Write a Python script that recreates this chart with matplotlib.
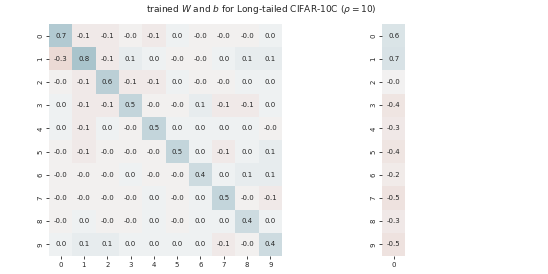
import numpy as np
import matplotlib
matplotlib.use("Agg")
import matplotlib.pyplot as plt
import seaborn as sns

classes = [str(i) for i in range(10)]
W = np.array([
    [0.7, -0.1, -0.1, -0.02, -0.1, 0.02, -0.02, -0.02, -0.02, 0.02],
    [-0.3, 0.8, -0.1, 0.1, 0.02, -0.02, -0.02, 0.02, 0.1, 0.1],
    [-0.02, -0.1, 0.6, -0.1, -0.1, 0.02, -0.02, -0.02, 0.02, 0.02],
    [0.02, -0.1, -0.1, 0.5, -0.02, -0.02, 0.1, -0.1, -0.1, 0.02],
    [0.02, -0.1, 0.02, -0.02, 0.5, 0.02, 0.02, 0.02, 0.02, -0.02],
    [-0.02, -0.1, -0.02, -0.02, -0.02, 0.5, 0.02, -0.1, 0.02, 0.1],
    [-0.02, -0.02, -0.02, 0.02, -0.02, -0.02, 0.4, 0.02, 0.1, 0.1],
    [-0.02, -0.02, -0.02, -0.02, 0.02, -0.02, 0.02, 0.5, -0.02, -0.1],
    [-0.02, 0.02, -0.02, -0.02, 0.02, -0.02, 0.02, 0.02, 0.4, 0.02],
    [0.02, 0.1, 0.1, 0.02, 0.02, 0.02, 0.02, -0.1, -0.02, 0.4],
])
b = np.array([0.6, 0.7, -0.02, -0.4, -0.3, -0.4, -0.2, -0.5, -0.3, -0.5])

title = r"trained $W$ and $b$ for Long-tailed CIFAR-10C ($\rho=10$)"

cmap = sns.diverging_palette(20, 220, as_cmap=True)

fig = plt.figure(figsize=(5.48, 2.74), dpi=100)
axW = fig.add_axes([49/548, 1-256/274, 233/548, 232/274])
axb = fig.add_axes([382/548, 1-256/274, 23.3/548, 232/274])

def draw(ax, M, vmax, xlabels, ylabels):
    ax.pcolormesh(M, cmap=cmap, vmin=-vmax, vmax=vmax)
    ax.set_xlim(0, M.shape[1])
    ax.set_ylim(M.shape[0], 0)
    for i in range(M.shape[0]):
        for j in range(M.shape[1]):
            ax.text(j + 0.5, i + 0.5, format(M[i, j], ".1f"), ha="center", va="center",
                    fontsize=5, color="#262626")
    ax.set_xticks(np.arange(M.shape[1]) + 0.5)
    ax.set_xticklabels(xlabels)
    ax.set_yticks(np.arange(M.shape[0]) + 0.5)
    ax.set_yticklabels(ylabels, rotation=90, va="center")
    ax.tick_params(labelsize=5, length=2, width=0.6, pad=2, colors="#262626")
    for s in ax.spines.values():
        s.set_visible(False)

draw(axW, W, 2.0, classes, classes)
draw(axb, b.reshape(-1, 1), 5.0, ["0"], classes)

fig.text(0.477, 0.967, title, ha="center", va="center", fontsize=6.5, color="#262626")

fig.savefig("out.png", dpi=100)
